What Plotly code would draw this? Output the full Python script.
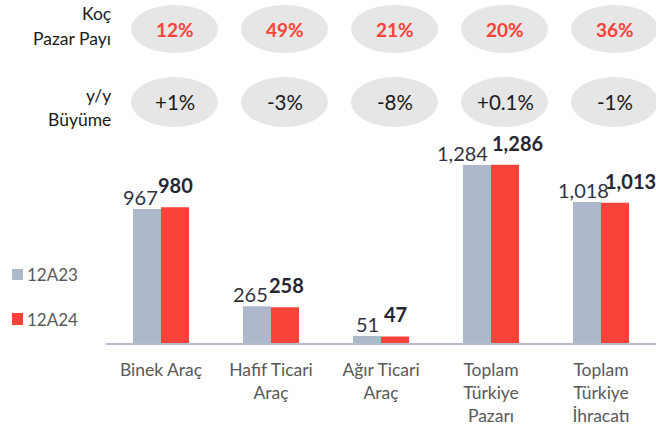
import plotly.graph_objects as go

categories = ["Binek Araç", "Hafif Ticari<br>Araç", "Ağır Ticari<br>Araç",
              "Toplam<br>Türkiye<br>Pazarı", "Toplam<br>Türkiye<br>İhracatı"]
series_names = ["12A23", "12A24"]
values_2023 = [967, 265, 51, 1284, 1018]
values_2024 = [980, 258, 47, 1286, 1013]
market_share = ["12%", "49%", "21%", "20%", "36%"]
growth = ["+1%", "-3%", "-8%", "+0.1%", "-1%"]
row_labels = [["Koç", "Pazar Payı"], ["y/y", "Büyüme"]]

GRAY = "#ADB9CA"
RED = "#F9423A"
FONT = "Lato"

x_idx = list(range(len(categories)))

fig = go.Figure()
fig.add_trace(go.Bar(x=x_idx, y=values_2023, name=series_names[0],
                     marker=dict(color=GRAY, line=dict(width=0))))
fig.add_trace(go.Bar(x=x_idx, y=values_2024, name=series_names[1],
                     marker=dict(color=RED, line=dict(width=0))))

shapes = []
annotations = []

# data labels (manual offsets like the original)
gray_dx = [-21, -21, -14, -29, -18]
red_dx = [14, 15, 14, 26, 29]
for i in x_idx:
    annotations.append(dict(x=i, y=values_2023[i], xref="x", yref="y",
                            text=f"{values_2023[i]:,}", showarrow=False,
                            xanchor="center", yanchor="bottom",
                            xshift=gray_dx[i], yshift=-2,
                            font=dict(family=FONT, size=20, color="#333340")))
    annotations.append(dict(x=i, y=values_2024[i], xref="x", yref="y",
                            text=f"<b>{values_2024[i]:,}</b>", showarrow=False,
                            xanchor="center", yanchor="bottom",
                            xshift=red_dx[i], yshift=8,
                            font=dict(family=FONT, size=20, color="#262633")))

# ellipses with market share and growth
for i in x_idx:
    for (y0, y1) in [(96, 144), (22, 72)]:
        shapes.append(dict(type="circle", xref="x", yref="paper",
                           xsizemode="pixel", ysizemode="pixel",
                           xanchor=i, yanchor=1,
                           x0=-30, x1=57, y0=y0, y1=y1,
                           fillcolor="#E6E6E6", line=dict(width=0), layer="below"))
    annotations.append(dict(x=i, y=1, xref="x", yref="paper", xshift=14, yshift=120,
                            text=f"<b>{market_share[i]}</b>", showarrow=False,
                            xanchor="center", yanchor="middle",
                            font=dict(family=FONT, size=19, color=RED)))
    annotations.append(dict(x=i, y=1, xref="x", yref="paper", xshift=14, yshift=47,
                            text=growth[i], showarrow=False,
                            xanchor="center", yanchor="middle",
                            font=dict(family=FONT, size=20.5, color="#1a1a1a")))

# row labels
for (txt, ys) in [(row_labels[0][0], 136), (row_labels[0][1], 111),
                  (row_labels[1][0], 54), (row_labels[1][1], 30)]:
    annotations.append(dict(x=0, y=1, xref="paper", yref="paper", xshift=7, yshift=ys,
                            text=txt, showarrow=False, xanchor="right", yanchor="middle",
                            font=dict(family=FONT, size=17.5, color="#1a1a1a")))

# legend (manual)
for name, col, (y0, y1) in [(series_names[0], GRAY, (63, 74)), (series_names[1], RED, (18, 30))]:
    shapes.append(dict(type="rect", xref="paper", yref="paper",
                       xsizemode="pixel", ysizemode="pixel", xanchor=0, yanchor=0,
                       x0=-94, x1=-83, y0=y0, y1=y1, fillcolor=col, line=dict(width=0)))
    annotations.append(dict(x=0, y=0, xref="paper", yref="paper", xshift=-81,
                            yshift=(y0 + y1) / 2, text=name, showarrow=False,
                            xanchor="left", yanchor="middle",
                            font=dict(family=FONT, size=17, color="#595959")))

fig.update_layout(
    width=656, height=431,
    margin=dict(l=106, r=0, t=149, b=88),
    paper_bgcolor="white", plot_bgcolor="white",
    barmode="group", bargap=0.49, bargroupgap=0,
    showlegend=False,
    font=dict(family=FONT),
    shapes=shapes, annotations=annotations,
    xaxis=dict(tickmode="array", tickvals=x_idx, ticktext=categories,
               range=[-0.5, 4.5], showgrid=False, zeroline=False,
               showline=True, linecolor="#B4BDCB", linewidth=2,
               ticks="", ticklabelstandoff=10,
               tickfont=dict(family=FONT, size=17.5, color="#595959")),
    yaxis=dict(range=[0, 1400], visible=False, showgrid=False, zeroline=False),
)

fig.write_html("out.html", config={"displayModeBar": False},
               post_script="document.body.style.margin='0';document.body.style.overflow='hidden';")
